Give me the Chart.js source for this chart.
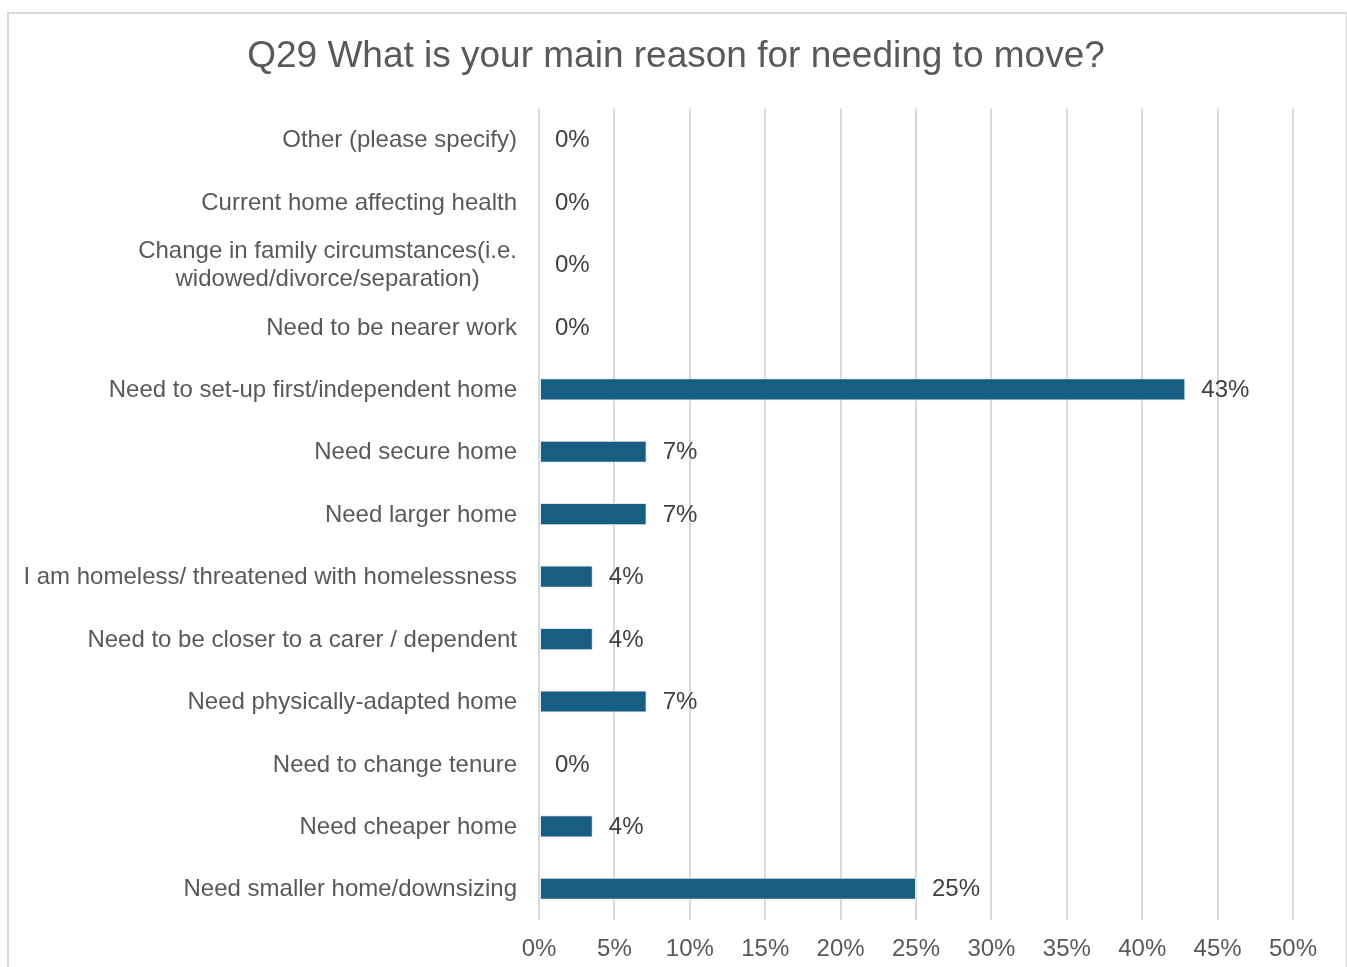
<!DOCTYPE html>
<html lang="en">
    <head>
        <meta charset="UTF-8" />
        <title>Q29 main reason for needing to move</title>
        <script src="https://cdn.jsdelivr.net/npm/chart.js@4.4.1/dist/chart.umd.min.js"></script>
        <style>
            body { margin: 0; background: #fff; overflow: hidden; }
            #frame { position: absolute; left: 7px; top: 12px; width: 1337px; height: 1000px; border: 2px solid #d9d9d9; }
            #chart { position: absolute; left: 0; top: 0; }
        </style>
    </head>
    <body>
        <div id="frame"></div>
        <canvas id="chart" width="1347" height="967"></canvas>
        <script>
        // answers, top to bottom
        const reasons = [
            'Other (please specify)',
            'Current home affecting health',
            ['Change in family circumstances(i.e.', 'widowed/divorce/separation)'],
            'Need to be nearer work',
            'Need to set-up first/independent home',
            'Need secure home',
            'Need larger home',
            'I am homeless/ threatened with homelessness',
            'Need to be closer to a carer / dependent',
            'Need physically-adapted home',
            'Need to change tenure',
            'Need cheaper home',
            'Need smaller home/downsizing'
        ];
        // share of respondents, %
        const shares = [0, 0, 0, 0, 42.86, 7.14, 7.14, 3.57, 3.57, 7.14, 0, 3.57, 25.0];
        const xTicks = [0, 5, 10, 15, 20, 25, 30, 35, 40, 45, 50];

        const FONT = '"Liberation Sans", Arial, sans-serif';

        // category names drawn by hand so two-line names stay centred on each other
        const categoryLabels = {
            id: 'categoryLabels',
            afterDraw(chart) {
                const ctx = chart.ctx;
                const y = chart.scales.y;
                const right = chart.chartArea.left - 22;
                ctx.save();
                ctx.font = '24px ' + FONT;
                ctx.fillStyle = '#595959';
                ctx.textBaseline = 'middle';
                ctx.textAlign = 'center';
                reasons.forEach((r, i) => {
                    const cy = y.getPixelForTick(i) + 1;
                    const lines = Array.isArray(r) ? r : [r];
                    const w = Math.max(...lines.map(l => ctx.measureText(l).width));
                    const lh = 28;
                    lines.forEach((l, j) => {
                        ctx.fillText(l, right - w / 2, cy + (j - (lines.length - 1) / 2) * lh);
                    });
                });
                ctx.restore();
            }
        };

        // percentage at the end of each bar
        const valueLabels = {
            id: 'valueLabels',
            afterDatasetsDraw(chart) {
                const ctx = chart.ctx;
                const meta = chart.getDatasetMeta(0);
                ctx.save();
                ctx.font = '24px ' + FONT;
                ctx.fillStyle = '#404040';
                ctx.textAlign = 'left';
                ctx.textBaseline = 'middle';
                meta.data.forEach((bar, i) => {
                    ctx.fillText(shares[i].toFixed(0) + '%', bar.x + 16, bar.y + 1);
                });
                ctx.restore();
            }
        };

        const ctx = document.getElementById('chart').getContext('2d');
        new Chart(ctx, {
            type: 'bar',
            data: {
                labels: reasons,
                datasets: [{
                    data: shares,
                    backgroundColor: '#175e82',
                    borderColor: '#dfe8ee',
                    borderWidth: 1,
                    borderSkipped: false,
                    barPercentage: 1,
                    categoryPercentage: 0.355
                }]
            },
            plugins: [categoryLabels, valueLabels],
            options: {
                indexAxis: 'y',
                responsive: false,
                animation: false,
                layout: { padding: { left: 59, right: 54, top: 0, bottom: 0 } },
                plugins: {
                    legend: { display: false },
                    tooltip: { enabled: false },
                    title: {
                        display: true,
                        text: 'Q29 What is your main reason for needing to move?',
                        color: '#595959',
                        font: { family: FONT, size: 37, weight: 'normal' },
                        padding: { top: 35, bottom: 29 }
                    }
                },
                scales: {
                    x: {
                        min: 0,
                        max: 50,
                        afterBuildTicks(scale) {
                            scale.ticks = xTicks.map(v => ({ value: v }));
                        },
                        afterFit(scale) { scale.height = 47; },
                        grid: { color: '#d9d9d9', lineWidth: 2, drawTicks: false },
                        border: { display: false },
                        ticks: {
                            color: '#595959',
                            font: { family: FONT, size: 24 },
                            padding: 15,
                            callback: v => v + '%'
                        }
                    },
                    y: {
                        afterFit(scale) { scale.width = 480; },
                        grid: { display: false },
                        border: { display: false },
                        ticks: { display: false }
                    }
                }
            }
        });
        </script>
    </body>
</html>
